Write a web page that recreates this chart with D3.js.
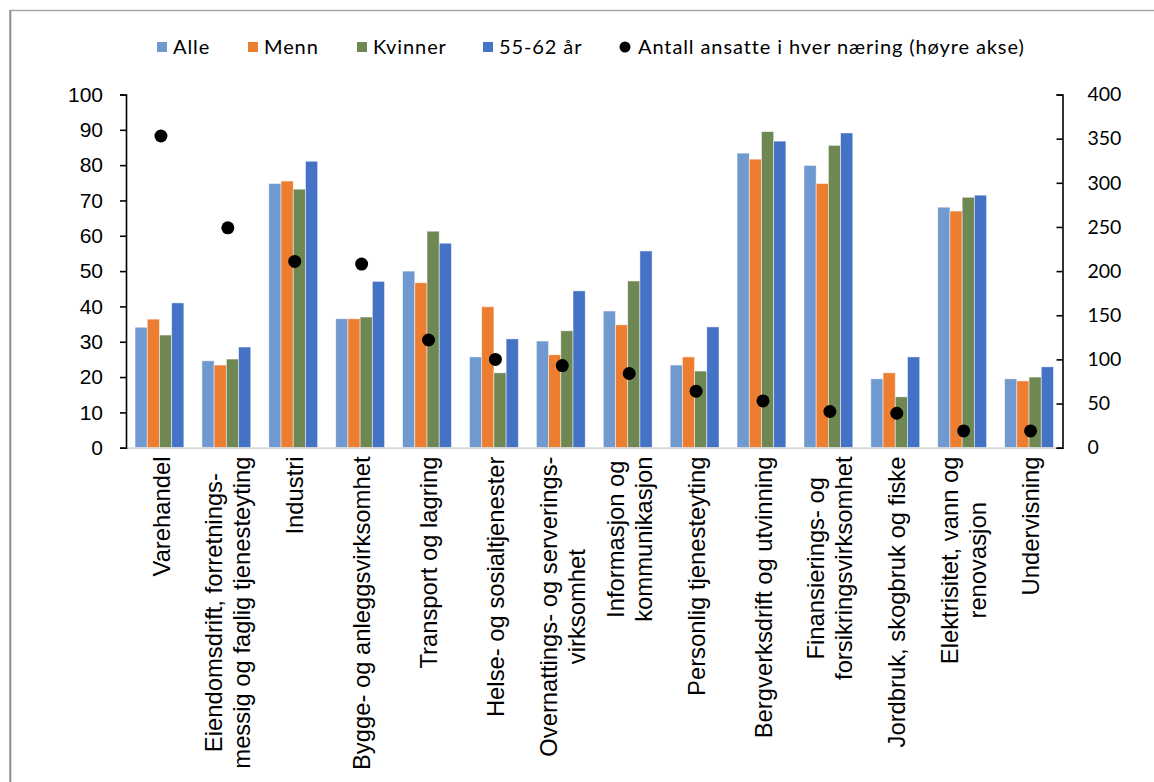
<!DOCTYPE html>
<html>
<head>
<meta charset="utf-8">
<script src="https://cdn.jsdelivr.net/npm/d3@7"></script>
<style>
  html, body { margin: 0; padding: 0; background: #fff; }
  svg { display: block; }
</style>
</head>
<body>
<svg id="chart" width="1154" height="782"></svg>
<script>
// Næringer (kategorier)
const categories = [
  ["Varehandel"],
  ["Eiendomsdrift, forretnings-", "messig og faglig tjenesteyting"],
  ["Industri"],
  ["Bygge- og anleggsvirksomhet"],
  ["Transport og lagring"],
  ["Helse- og sosialtjenester"],
  ["Overnattings- og serverings-", "virksomhet"],
  ["Informasjon og", "kommunikasjon"],
  ["Personlig tjenesteyting"],
  ["Bergverksdrift og utvinning"],
  ["Finansierings- og", "forsikringsvirksomhet"],
  ["Jordbruk, skogbruk og fiske"],
  ["Elektrisitet, vann og", "renovasjon"],
  ["Undervisning"]
];

// Andel (venstre akse), per gruppe
const alle    = [34.1, 24.6, 74.8, 36.5, 50.0, 25.7, 30.2, 38.7, 23.4, 83.4, 79.9, 19.5, 68.1, 19.5];
const menn    = [36.4, 23.4, 75.5, 36.5, 46.7, 39.9, 26.3, 34.8, 25.7, 81.7, 74.8, 21.2, 67.0, 18.9];
const kvinner = [31.9, 25.1, 73.2, 37.0, 61.3, 21.2, 33.1, 47.2, 21.7, 89.5, 85.6, 14.4, 70.9, 20.0];
const alder   = [41.0, 28.5, 81.1, 47.1, 57.9, 30.8, 44.4, 55.7, 34.2, 86.8, 89.1, 25.7, 71.5, 22.9];

// Antall ansatte i hver næring (høyre akse)
const ansatte = [353, 249, 211, 208, 122, 100, 93, 84, 64, 53, 41, 39, 19, 19];

const seriesNames = ["Alle", "Menn", "Kvinner", "55-62 år"];
const seriesColors = ["#7099cf", "#ed7d31", "#6e8753", "#4472c4"];
const dotLabel = "Antall ansatte i hver næring (høyre akse)";

const leftTicks = [0, 10, 20, 30, 40, 50, 60, 70, 80, 90, 100];
const rightTicks = [0, 50, 100, 150, 200, 250, 300, 350, 400];

const series = [alle, menn, kvinner, alder];

const svg = d3.select("#chart");

// frame lines
svg.append("line").attr("x1", 10).attr("x2", 1154).attr("y1", 10.5).attr("y2", 10.5)
  .attr("stroke", "#a6a6a6").attr("stroke-width", 1.5);
svg.append("line").attr("x1", 10.3).attr("x2", 10.3).attr("y1", 10).attr("y2", 782)
  .attr("stroke", "#8c8c8c").attr("stroke-width", 2);

const plot = { left: 126, right: 1062.5, top: 94.5, bottom: 447.7 };

const x = d3.scaleBand()
  .domain(d3.range(categories.length))
  .range([plot.left, plot.right])
  .paddingInner(0.27)
  .paddingOuter(0.135);

const xs = d3.scaleBand()
  .domain(d3.range(series.length))
  .range([0, x.bandwidth()]);

const y = d3.scaleLinear().domain([0, 100]).range([plot.bottom, plot.top]);
const y2 = d3.scaleLinear().domain([0, 400]).range([plot.bottom, plot.top]);

// bars
const groups = svg.append("g").selectAll("g")
  .data(categories.map((c, i) => i))
  .join("g")
  .attr("transform", i => `translate(${x(i)},0)`);

groups.selectAll("rect")
  .data(i => series.map((s, k) => ({ k, v: s[i] })))
  .join("rect")
  .attr("x", d => xs(d.k))
  .attr("width", xs.bandwidth())
  .attr("y", d => y(d.v))
  .attr("height", d => y(0) - y(d.v))
  .attr("fill", d => seriesColors[d.k])
  .attr("stroke", "#ffffff")
  .attr("stroke-opacity", 0.6)
  .attr("stroke-width", 0.8);

// category axis line
svg.append("line")
  .attr("x1", plot.left).attr("x2", plot.right)
  .attr("y1", plot.bottom + 0.5).attr("y2", plot.bottom + 0.5)
  .attr("stroke", "#d9d9d9").attr("stroke-width", 2);

// left axis
const yAxis = d3.axisLeft(y).tickValues(leftTicks).tickSize(6).tickPadding(17);
const gy = svg.append("g").attr("transform", `translate(${plot.left},0)`).call(yAxis);
gy.select(".domain").attr("stroke", "#000").attr("stroke-width", 1.6);
gy.selectAll(".tick line").attr("stroke", "#000").attr("stroke-width", 1.6);
gy.selectAll(".tick text")
  .attr("font-family", "'Liberation Sans', Arial, sans-serif")
  .attr("font-size", 21).attr("fill", "#000");

// right axis (ticks pointing inward)
const y2Axis = d3.axisRight(y2).tickValues(rightTicks).tickSize(-6).tickPadding(25);
const gy2 = svg.append("g").attr("transform", `translate(${plot.right},0)`).call(y2Axis);
gy2.select(".domain").attr("stroke", "#000").attr("stroke-width", 1.6);
gy2.selectAll(".tick line").attr("stroke", "#000").attr("stroke-width", 1.6);
gy2.selectAll(".tick text")
  .attr("font-family", "Lato, 'Open Sans', sans-serif")
  .attr("font-size", 19.5).attr("fill", "#000");

// employee count dots
svg.append("g").selectAll("circle")
  .data(ansatte)
  .join("circle")
  .attr("cx", (d, i) => x(i) + x.bandwidth() / 2 + 1.5)
  .attr("cy", d => y2(d))
  .attr("r", 6.5)
  .attr("fill", "#000");

// rotated category labels
const fs = 23.8, lineH = 28, labelTop = 456.5;
const labels = svg.append("g").selectAll("g")
  .data(categories)
  .join("g")
  .attr("font-family", "'Liberation Sans', Arial, sans-serif")
  .attr("font-size", fs)
  .attr("fill", "#000");

labels.each(function (lines, i) {
  const g = d3.select(this);
  const cx = x(i) + x.bandwidth() / 2 + 1.5;
  g.attr("transform", `translate(${cx},${labelTop}) rotate(-90)`);
  const texts = g.selectAll("text").data(lines).join("text")
    .attr("text-anchor", "middle")
    .attr("y", (d, k) => (k - (lines.length - 1) / 2) * lineH + 0.36 * fs)
    .text(d => d);
  let maxLen = 0;
  texts.each(function () { maxLen = Math.max(maxLen, this.getComputedTextLength()); });
  texts.attr("x", -maxLen / 2);
});

// legend
const legend = svg.append("g")
  .attr("font-family", "Lato, 'Open Sans', sans-serif")
  .attr("font-size", 20)
  .attr("letter-spacing", "0.9px");
const legendY = 47;
const legendX = [157, 248, 357, 483];
seriesNames.forEach((name, k) => {
  legend.append("rect")
    .attr("x", legendX[k]).attr("y", legendY - 5)
    .attr("width", 10).attr("height", 10)
    .attr("fill", seriesColors[k]);
  legend.append("text")
    .attr("x", legendX[k] + 16).attr("y", legendY)
    .attr("dy", "0.35em")
    .text(name);
});
legend.append("circle").attr("cx", 625).attr("cy", legendY).attr("r", 5.5).attr("fill", "#000");
legend.append("text")
  .attr("x", 638).attr("y", legendY)
  .attr("dy", "0.35em")
  .text(dotLabel);
</script>
</body>
</html>
